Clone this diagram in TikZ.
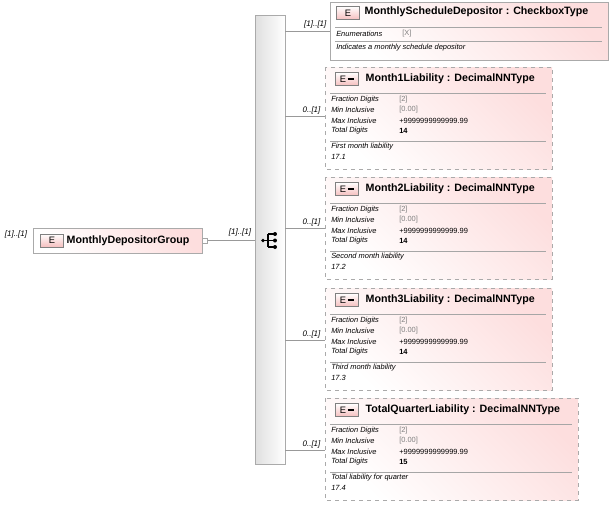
\documentclass[tikz,border=0pt]{standalone}
\usepackage{fontspec}
\setmainfont{Liberation Sans}
\usetikzlibrary{positioning,calc}
\definecolor{pinkbg}{RGB}{253,222,222}
\definecolor{edgegray}{RGB}{170,170,170}
\definecolor{ebox}{RGB}{245,190,190}
\tikzset{
  elem/.style={draw=edgegray, top color=white, bottom color=pinkbg, shading angle=135},
  optelem/.style={elem, dashed},
  ebadge/.style={draw=gray, top color=white, bottom color=ebox, minimum width=17pt, minimum height=10pt, inner sep=0pt, font=\fontsize{7}{8}\selectfont},
  title/.style={anchor=west, font=\bfseries\fontsize{8}{9}\selectfont},
  facet/.style={anchor=west, font=\itshape\fontsize{5.6}{6}\selectfont, inner sep=0pt},
  fval/.style={anchor=west, font=\fontsize{5.6}{6}\selectfont, inner sep=0pt},
  card/.style={font=\itshape\fontsize{6}{7}\selectfont, inner sep=1pt},
  branch/.style={draw=gray!80, line width=0.5pt}
}
% facet box for the liability elements
\newcommand{\liabbox}[8]{%
  \draw[optelem] (325,#1) rectangle (#8,#1+102);
  \node[ebadge] (#2E) at (347,#1+12) {E\,\rule[1.5pt]{5pt}{1.5pt}};
  \node[title] (#2) at (361,#1+12) {#3};
  \draw[gray!70] (330,#1+26) -- (#8-6,#1+26);
  \node[facet] at (331,#1+33) {Fraction Digits};
  \node[fval, gray] at (399,#1+33) {[2]};
  \node[facet] at (331,#1+43) {Min Inclusive};
  \node[fval, gray] at (399,#1+43) {[0.00]};
  \node[facet] at (331,#1+54) {Max Inclusive};
  \node[fval] at (399,#1+54) {+9999999999999.99};
  \node[facet] at (331,#1+64) {Total Digits};
  \node[fval] at (399,#1+64) {\bfseries #4};
  \draw[gray!70] (330,#1+74) -- (#8-6,#1+74);
  \node[facet] at (331,#1+80) {#5};
  \node[facet] at (331,#1+90) {#6};
  \coordinate (#2in) at (325,#7);
  \draw[branch] (bar.east |- #2in) -- (#2in);
  \node[card, anchor=east] at (322,#7-6) {0..[1]};
}
\begin{document}
\begin{tikzpicture}[x=0.75pt,y=-0.75pt]
\useasboundingbox (0,0) rectangle (612,507);
% root element
\draw[elem] (33,228) rectangle (202,253);
\node[ebadge] (rootE) at (52,240.5) {E};
\node[title] (root) at (62,240.5) {MonthlyDepositorGroup};
\node[card] at (16,234) {[1]..[1]};
\node[draw=gray!70, minimum size=4pt, inner sep=0pt] (rootminus) at (205,240.5) {};
% sequence bar
\node[draw=edgegray, left color=gray!25, right color=white, minimum width=22.5pt, minimum height=337pt, inner sep=0pt] (bar) at (270,240) {};
\draw[branch] (rootminus) -- (bar.west |- rootminus);
\node[card] at (240,232) {[1]..[1]};
% sequence icon
\fill (263,240.5) circle (1.8);
\draw[line width=0.8pt] (263,240.5) -- (268,240.5) (268,234) -- (268,247) (268,234) -- (274,234) (268,247) -- (274,247) (268,240.5) -- (274,240.5);
\foreach \yy in {234,240.5,247} \fill (275,\yy) circle (2);
% first child
\draw[elem] (330,2) rectangle (608,60);
\node[ebadge] (schedE) at (348,13) {E};
\node[title] (sched) at (360,12) {MonthlyScheduleDepositor : CheckboxType};
\draw[gray!70] (335,27) -- (602,27);
\node[facet] at (336,34) {Enumerations};
\node[fval, gray] at (402,34) {[X]};
\draw[gray!70] (335,41) -- (602,41);
\node[facet] at (336,48) {Indicates a monthly schedule depositor};
\draw[branch] (bar.east |- 0,31) -- (330,31);
\node[card, anchor=east] at (328,24) {[1]..[1]};
% liability children
\liabbox{67}{mone}{Month1Liability : DecimalNNType}{14}{First month liability}{17.1}{116}{552}
\liabbox{177}{mtwo}{Month2Liability : DecimalNNType}{14}{Second month liability}{17.2}{228}{552}
\liabbox{288}{mthree}{Month3Liability : DecimalNNType}{14}{Third month liability}{17.3}{340}{552}
\liabbox{398}{total}{TotalQuarterLiability : DecimalNNType}{15}{Total liability for quarter}{17.4}{450}{578}
\end{tikzpicture}
\end{document}
